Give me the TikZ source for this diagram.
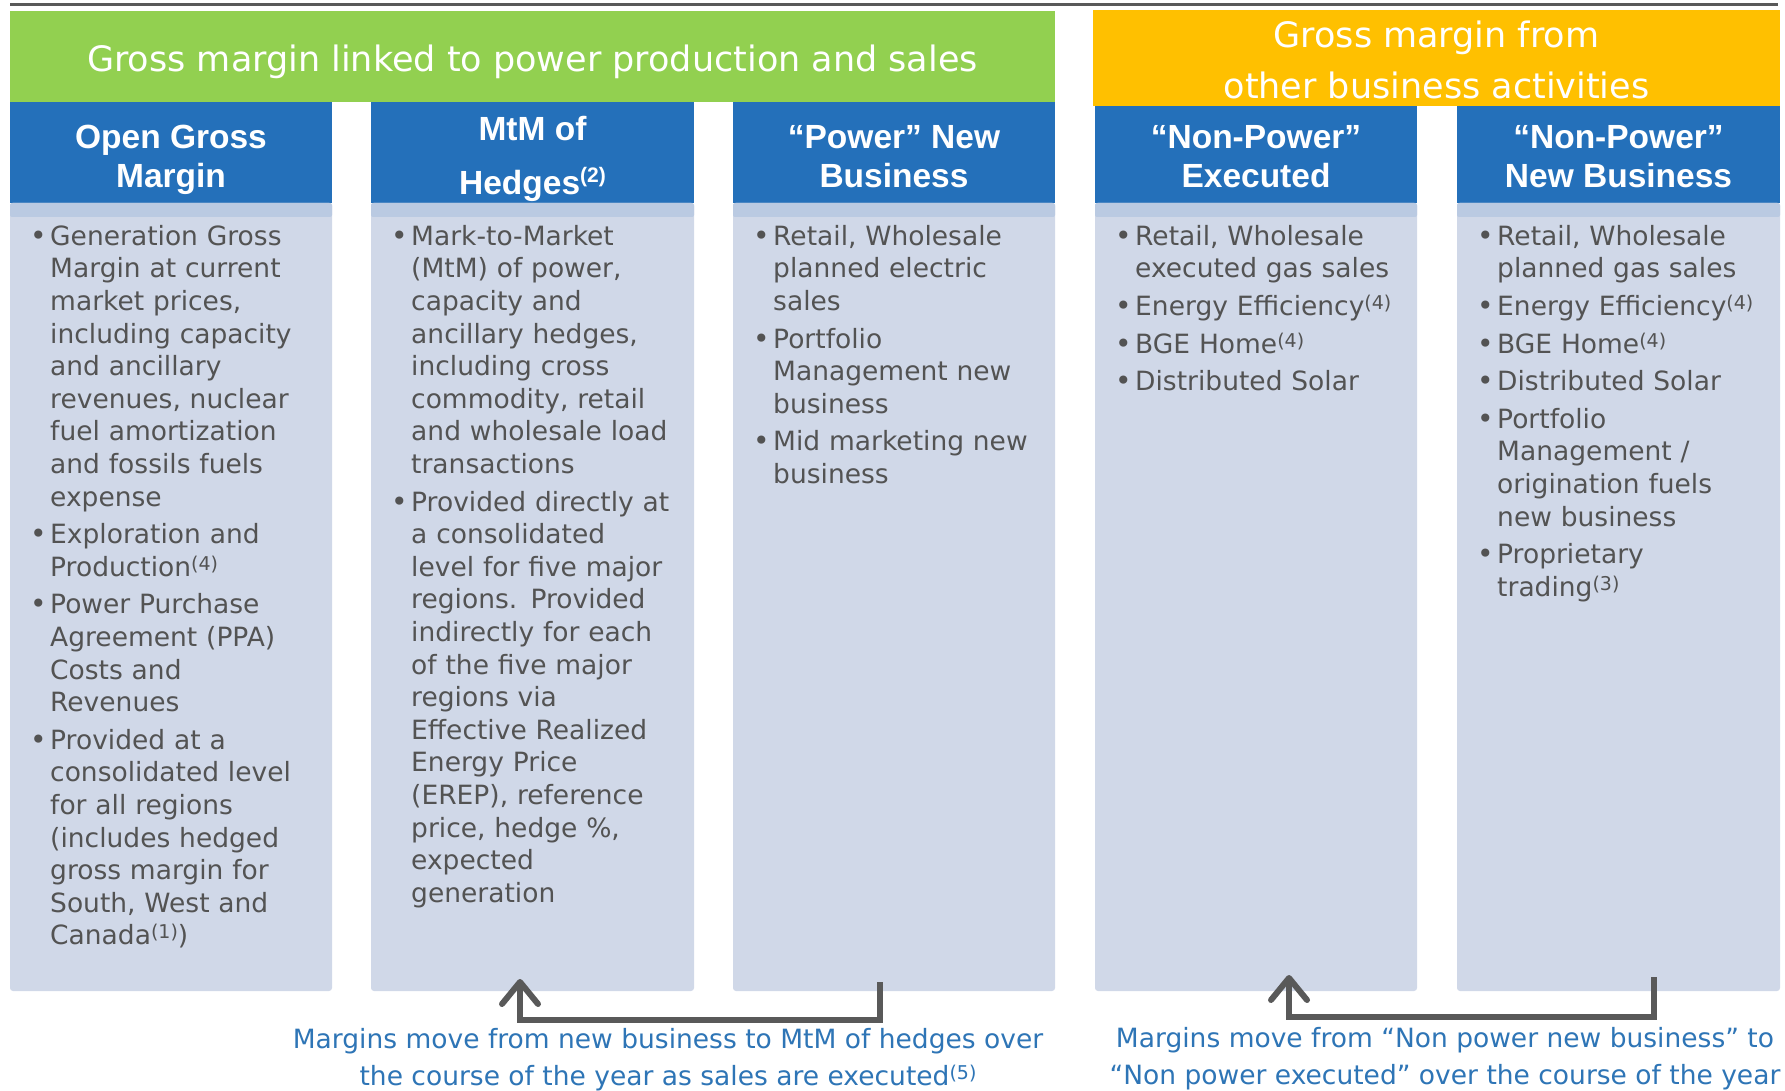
\documentclass[tikz,border=0pt]{standalone}
\usepackage{fontspec}
\setmainfont{DejaVu Sans}
\newfontfamily\hdrfont{Liberation Sans}
\usetikzlibrary{arrows.meta}
\definecolor{gbar}{HTML}{92D050}
\definecolor{obar}{HTML}{FFC000}
\definecolor{hblue}{HTML}{2470BA}
\definecolor{stripc}{HTML}{BACAE2}
\definecolor{bodyc}{HTML}{D0D8E8}
\definecolor{txtgray}{HTML}{535353}
\definecolor{capblue}{HTML}{2E75B6}
\definecolor{arrgray}{HTML}{595959}
\newcommand\sups[1]{\raisebox{6pt}{\fontsize{19}{19}\selectfont #1}}
\newcommand\hsups[1]{\raisebox{12pt}{\fontsize{21}{21}\selectfont #1}}
\newcommand\bul{\rule{0pt}{23pt}\makebox[18pt][l]{\hspace*{-2pt}\raisebox{0pt}{\fontsize{28}{28}\selectfont\textbullet}}}
\newcommand\itm{\par\hangindent=18pt\hangafter=1\noindent\bul}
\tikzset{
  bannerbox/.style={anchor=north west, inner sep=0pt, outer sep=0pt},
  hdrbox/.style={fill=hblue, anchor=north west, inner sep=0pt, outer sep=0pt, minimum height=101pt},
  bodybox/.style={fill=bodyc, anchor=north west, inner sep=0pt, outer sep=0pt, minimum height=788pt, rounded corners=3pt},
  stripbox/.style={fill=stripc, anchor=north west, inner sep=0pt, outer sep=0pt, minimum height=14pt, rounded corners=2pt},
  bannertxt/.style={text=white, inner sep=0pt, align=center, font=\fontsize{35}{51}\selectfont},
  hdrtxt/.style={anchor=north, align=center, inner sep=0pt, text=white, font=\hdrfont\bfseries\fontsize{33.5}{39}\selectfont},
  bodytxt/.style={anchor=north west, text width=300pt, align=left, inner sep=0pt, text=txtgray, font=\fontsize{26.5}{32.6}\selectfont},
  capt/.style={text=capblue, align=center, inner sep=0pt, anchor=north, font=\fontsize{26.5}{37}\selectfont},
  conn/.style={draw=arrgray, line width=6pt, -{Straight Barb[length=22pt,width=36pt,round]}}
}
\begin{document}
\begin{tikzpicture}[x=1pt,y=-1pt]
\useasboundingbox (0,0) rectangle (1785,1091);
\fill[white] (0,0) rectangle (1785,1091);
% top rule
\draw[line width=3pt, arrgray] (10,5) -- (1778,5);
% banners
\node[bannerbox, fill=gbar, minimum width=1045pt, minimum height=91pt] (gb) at (10,11) {};
\node[bannerbox, fill=obar, minimum width=687pt, minimum height=96pt] (ob) at (1093,10) {};
\node[bannertxt, anchor=base] (gbt) at (532.5,72) {Gross margin linked to power production and sales};
\node[bannertxt, anchor=north] (obt) at (1436.5,21) {\rule{0pt}{26pt}Gross margin from\\other business activities};
% headers
\node[hdrbox, minimum width=322pt] (h1) at (10,102) {};
\node[hdrbox, minimum width=323pt] (h2) at (371,102) {};
\node[hdrbox, minimum width=322pt] (h3) at (733,102) {};
\node[hdrbox, minimum width=322pt, minimum height=97pt] (h4) at (1095,106) {};
\node[hdrbox, minimum width=323pt, minimum height=97pt] (h5) at (1457,106) {};
% bodies
\node[bodybox, minimum width=322pt] (b1) at (10,203) {};
\node[bodybox, minimum width=323pt] (b2) at (371,203) {};
\node[bodybox, minimum width=322pt] (b3) at (733,203) {};
\node[bodybox, minimum width=322pt] (b4) at (1095,203) {};
\node[bodybox, minimum width=323pt] (b5) at (1457,203) {};
\node[stripbox, minimum width=322pt] (s1) at (10,203) {};
\node[stripbox, minimum width=323pt] (s2) at (371,203) {};
\node[stripbox, minimum width=322pt] (s3) at (733,203) {};
\node[stripbox, minimum width=322pt] (s4) at (1095,203) {};
\node[stripbox, minimum width=323pt] (s5) at (1457,203) {};
% header texts
\node[hdrtxt] (ht1) at (171,123.5) {\rule{0pt}{25pt}Open Gross\\Margin};
\node[hdrtxt] (ht2) at (532.5,115) {\rule{0pt}{25pt}MtM of\\[15pt]Hedges\hsups{(2)}};
\node[hdrtxt] (ht3) at (894,123.5) {\rule{0pt}{25pt}“Power” New\\Business};
\node[hdrtxt] (ht4) at (1256,123.5) {\rule{0pt}{25pt}“Non-Power”\\Executed};
\node[hdrtxt] (ht5) at (1618.5,123.5) {\rule{0pt}{25pt}“Non-Power”\\New Business};
% body texts
\node[bodytxt] (t1) at (32,207.5) {\setlength\parskip{5pt}%
\itm Generation Gross\newline Margin at current\newline market prices,\newline including capacity\newline and ancillary\newline revenues, nuclear\newline fuel amortization\newline and fossils fuels\newline expense
\itm Exploration and\newline Production\sups{(4)}
\itm Power Purchase\newline Agreement (PPA)\newline Costs and\newline Revenues
\itm Provided at a\newline consolidated level\newline for all regions\newline (includes hedged\newline gross margin for\newline South, West and\newline Canada\sups{(1)})\par};
\node[bodytxt] (t2) at (393,207.5) {\setlength\parskip{5pt}%
\itm Mark-to-Market\newline (MtM) of power,\newline capacity and\newline ancillary hedges,\newline including cross\newline commodity, retail\newline and wholesale load\newline transactions
\itm Provided directly at\newline a consolidated\newline level for five major\newline regions. Provided\newline indirectly for each\newline of the five major\newline regions via\newline Effective Realized\newline Energy Price\newline (EREP), reference\newline price, hedge \%,\newline expected\newline generation\par};
\node[bodytxt] (t3) at (755,207.5) {\setlength\parskip{5pt}%
\itm Retail, Wholesale\newline planned electric\newline sales
\itm Portfolio\newline Management new\newline business
\itm Mid marketing new\newline business\par};
\node[bodytxt] (t4) at (1117,207.5) {\setlength\parskip{5pt}%
\itm Retail, Wholesale\newline executed gas sales
\itm Energy Efficiency\sups{(4)}
\itm BGE Home\sups{(4)}
\itm Distributed Solar\par};
\node[bodytxt] (t5) at (1479,207.5) {\setlength\parskip{5pt}%
\itm Retail, Wholesale\newline planned gas sales
\itm Energy Efficiency\sups{(4)}
\itm BGE Home\sups{(4)}
\itm Distributed Solar
\itm Portfolio\newline Management /\newline origination fuels\newline new business
\itm Proprietary\newline trading\sups{(3)}\par};
% connectors
\coordinate (a1s) at (880,982);
\coordinate (a1e) at (520,979);
\coordinate (a1m) at (880,1020);
\draw[conn] (a1s) -- (a1m) -| (a1e);
\coordinate (a2s) at (1654,977);
\coordinate (a2e) at (1289,975);
\coordinate (a2m) at (1654,1017);
\draw[conn] (a2s) -- (a2m) -| (a2e);
% captions
\node[capt] (c1) at (668,1024.5) {\rule{0pt}{24pt}Margins move from new business to MtM of hedges over\\the course of the year as sales are executed\sups{(5)}};
\node[capt] (c2) at (1445,1023.5) {\rule{0pt}{24pt}Margins move from “Non power new business” to\\“Non power executed” over the course of the year};
\end{tikzpicture}
\end{document}
